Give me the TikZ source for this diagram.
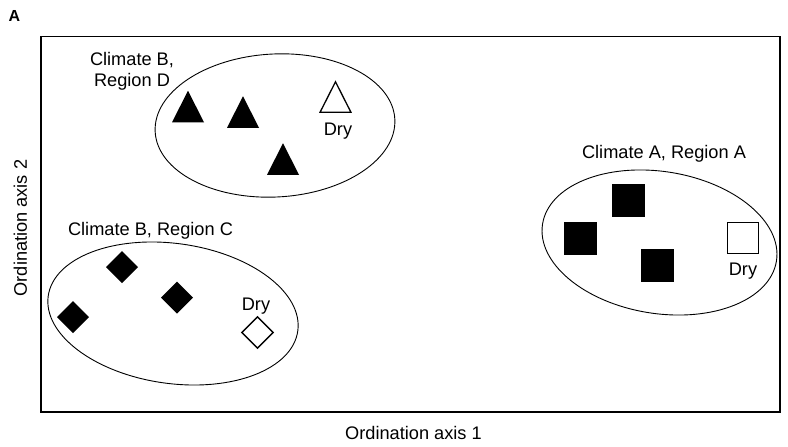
\documentclass[tikz,border=0pt]{standalone}
\usepackage{fontspec}
\setmainfont{Liberation Sans}
\tikzset{
  lbl/.style={font=\fontsize{18.2}{21}\selectfont, inner sep=0pt, outer sep=0pt, anchor=base},
  frameline/.style={line width=1.3pt},
  ellline/.style={line width=0.9pt},
  openline/.style={line width=1.3pt, fill=white},
  trifill/.pic={\fill[black] (0,-15.75) -- (16,15.75) -- (-16,15.75) -- cycle;},
  triopen/.pic={\draw[openline] (0,-15.2) -- (15.4,15.2) -- (-15.4,15.2) -- cycle;},
  sqfill/.pic={\fill[black] (-16.5,-16.5) rectangle (16.5,16.5);},
  sqopen/.pic={\draw[openline] (-15.7,-15.7) rectangle (15.7,15.7);},
  dmfill/.pic={\fill[black] (0,-16) -- (16,0) -- (0,16) -- (-16,0) -- cycle;},
  dmopen/.pic={\draw[openline] (0,-15.6) -- (15.6,0) -- (0,15.6) -- (-15.6,0) -- cycle;},
}
\begin{document}
\begin{tikzpicture}[x=1pt, y=-1pt]
\useasboundingbox (0,0) rectangle (788,447);
% panel letter
\node[lbl, font=\fontsize{16}{19}\selectfont\bfseries] (panel) at (14.5,21.5) {A};
% frame
\draw[frameline] (41,36.5) rectangle (780,412);
% axis labels
\node[lbl] (xlab) at (413.5,439) {Ordination axis 1};
\node[lbl, rotate=90] (ylab) at (27,228) {Ordination axis 2};
% ellipses
\draw[ellline, rotate around={3:(275,125.5)}] (275,125.5) ellipse [x radius=120pt, y radius=71.5pt];
\draw[ellline, rotate around={-8:(173,313.5)}] (173,313.5) ellipse [x radius=126pt, y radius=70pt];
\draw[ellline, rotate around={-9:(659.5,242.5)}] (659.5,242.5) ellipse [x radius=118.4pt, y radius=71pt];
% group labels
\node[lbl, align=center] (labD) at (132,86.7) {Climate B,\\Region D};
\node[lbl] (labC) at (150.5,235) {Climate B, Region C};
\node[lbl] (labA) at (664,158) {Climate A, Region A};
% triangles (Region D)
\pic at (188,106.5) {trifill};
\pic at (243,112) {trifill};
\pic at (283,159) {trifill};
\pic at (335.5,97) {triopen};
\node[lbl] (dryD) at (338,135) {Dry};
% diamonds (Region C)
\pic at (122,267) {dmfill};
\pic at (177,297.5) {dmfill};
\pic at (73,317) {dmfill};
\pic at (257.5,332.5) {dmopen};
\node[lbl] (dryC) at (256,310) {Dry};
% squares (Region A)
\pic at (628.5,200.5) {sqfill};
\pic at (580.5,238.5) {sqfill};
\pic at (657.5,265.5) {sqfill};
\pic at (743,238) {sqopen};
\node[lbl] (dryA) at (743,275) {Dry};
\end{tikzpicture}
\end{document}
